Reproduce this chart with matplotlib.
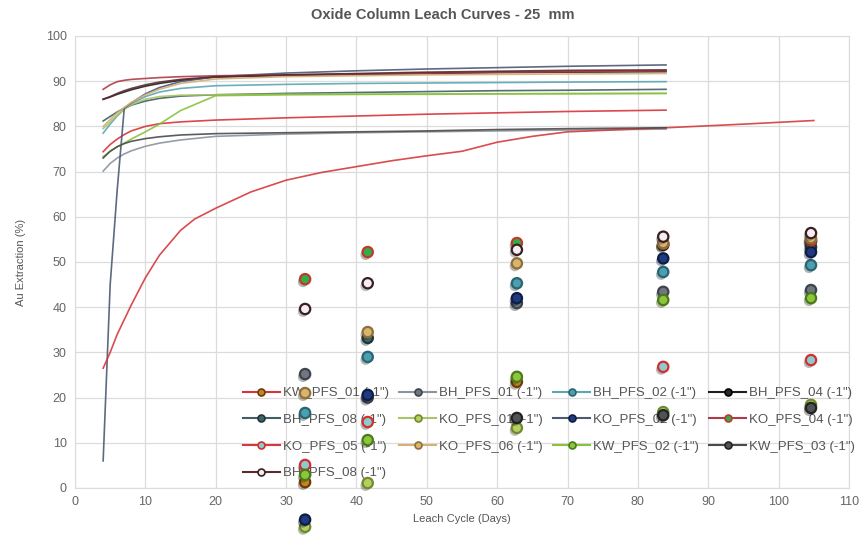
import numpy as np
import matplotlib.pyplot as plt
import matplotlib.patheffects as pe
from matplotlib.lines import Line2D

plt.rcParams['font.family'] = ['Liberation Sans', 'DejaVu Sans']

# leach curve days shared by the column tests
days = [4, 5, 6, 7, 8, 10, 12, 15, 20, 30, 40, 50, 60, 70, 84]
# longer test runs to 105 days
days_long = [4, 5, 6, 8, 10, 12, 15, 17, 20, 25, 30, 35, 40, 45, 50, 55, 60, 65, 70, 84, 95, 105]

# sampling days for the point assays
assay_days = [32.7, 41.6, 62.8, 83.6, 104.6]

names = ['KW_PFS_01 (-1")', 'BH_PFS_01 (-1")', 'BH_PFS_02 (-1")', 'BH_PFS_04 (-1")',
         'BH_PFS_08 (-1")', 'KO_PFS_01 (-1")', 'KO_PFS_02 (-1")', 'KO_PFS_04 (-1")',
         'KO_PFS_05 (-1")', 'KO_PFS_06 (-1")', 'KW_PFS_02 (-1")', 'KW_PFS_03 (-1")',
         'BH_PFS_08 (-1")']

kw01 = [74.4, 76.0, 77.2, 78.2, 79.0, 80.0, 80.6, 81.0, 81.4, 81.9, 82.3, 82.7, 83.0, 83.3, 83.6]
bh01 = [70.1, 71.8, 73.0, 73.9, 74.6, 75.6, 76.3, 77.0, 77.8, 78.3, 78.6, 78.8, 79.0, 79.2, 79.4]
bh02 = [78.5, 80.5, 82.3, 83.8, 85.0, 86.6, 87.6, 88.4, 89.0, 89.3, 89.5, 89.6, 89.7, 89.8, 89.9]
bh04 = [86.0, 86.5, 87.1, 87.6, 88.1, 88.9, 89.5, 90.2, 90.9, 91.3, 91.5, 91.7, 91.9, 92.0, 92.1]
bh08 = [81.2, 82.2, 83.2, 84.0, 84.7, 85.6, 86.2, 86.7, 87.0, 87.3, 87.5, 87.7, 87.9, 88.0, 88.2]
ko01 = [79.5, 81.0, 82.5, 83.8, 84.8, 86.0, 86.6, 86.9, 87.0, 87.1, 87.1, 87.2, 87.2, 87.3, 87.3]
ko02 = [6.0, 45.0, 66.0, 84.0, 85.2, 87.2, 88.6, 89.9, 91.0, 91.8, 92.3, 92.7, 93.0, 93.3, 93.6]
ko04 = [88.2, 89.2, 89.9, 90.2, 90.4, 90.6, 90.8, 91.0, 91.2, 91.4, 91.6, 91.8, 92.0, 92.1, 92.3]
ko05 = [26.5, 30.0, 34.0, 40.5, 46.5, 51.5, 57.0, 59.5, 61.9, 65.5, 68.1, 69.8, 71.1, 72.4,
        73.5, 74.5, 76.5, 77.8, 78.8, 79.7, 80.5, 81.3]
ko06 = [80.0, 81.5, 83.0, 84.2, 85.3, 87.0, 88.2, 89.5, 90.5, 91.0, 91.2, 91.4, 91.5, 91.6, 91.7]
kw02 = [73.3, 74.5, 75.5, 76.3, 77.2, 78.8, 80.5, 83.5, 86.8, 87.0, 87.1, 87.1, 87.2, 87.2, 87.3]
kw03 = [73.0, 74.5, 75.5, 76.2, 76.7, 77.3, 77.7, 78.1, 78.4, 78.6, 78.8, 79.0, 79.3, 79.5, 79.7]
bh08b = [86.0, 86.6, 87.3, 87.9, 88.4, 89.2, 89.8, 90.4, 91.0, 91.4, 91.7, 92.0, 92.2, 92.4, 92.5]

curves = [kw01, bh01, bh02, bh04, bh08, ko01, ko02, ko04, ko05, ko06, kw02, kw03, bh08b]

# point assays (%), one per sampling day
pts_kw01 = [1.3, np.nan, 23.5, np.nan, np.nan]
pts_bh01 = [25.2, 20.0, 40.9, 43.4, 43.8]
pts_bh02 = [16.6, 29.0, 45.3, 47.8, 49.3]
pts_bh04 = [np.nan, np.nan, np.nan, 53.8, 54.6]
pts_bh08 = [np.nan, 33.2, np.nan, np.nan, 53.3]
pts_ko01 = [-8.6, 1.1, 13.3, 16.8, 18.4]
pts_ko02 = [-7.0, 20.6, 42.0, 50.8, 52.2]
pts_ko04 = [46.2, 52.2, 54.2, 54.0, 54.8]
pts_ko05 = [5.1, 14.6, np.nan, 26.8, 28.3]
pts_ko06 = [21.0, 34.5, 49.7, 54.2, 55.3]
pts_kw02 = [2.9, 10.6, 24.6, 41.6, 42.0]
pts_kw03 = [np.nan, np.nan, 15.5, 16.1, 17.7]
pts_bh08b = [39.6, 45.3, 52.7, 55.6, 56.4]

points = [pts_kw01, pts_bh01, pts_bh02, pts_bh04, pts_bh08, pts_ko01, pts_ko02, pts_ko04,
          pts_ko05, pts_ko06, pts_kw02, pts_kw03, pts_bh08b]

line_colors = ['#d9333a', '#8a949c', '#5aa6b3', '#1e1e1e', '#3f5f63', '#a9c46a', '#4d5a72',
               '#b03a48', '#d6383c', '#d4b07a', '#86c23a', '#4a4a4a', '#5c2a2e']
face_colors = ['#c8861e', '#6f7880', '#4a9fb0', '#2a2a2a', '#3d6468', '#b5d060', '#1f3a80',
               '#2fae4a', '#8ccbd0', '#d8b46c', '#8cc63c', '#4e5358', '#f4eef0']
edge_colors = ['#6b3a10', '#3e444a', '#2c6470', '#000000', '#213538', '#6f8a30', '#0f1d45',
               '#c0392b', '#d42f2f', '#8c6f3a', '#4c7a1a', '#222222', '#3a1f22']

fig = plt.figure(figsize=(8.64, 5.35), dpi=100)
ax = fig.add_axes([75 / 864, 1 - 488 / 535, 774 / 864, 452 / 535])

for i, y in enumerate(curves):
    x = days_long if len(y) == len(days_long) else days
    ax.plot(x, y, color=line_colors[i], lw=1.2, alpha=0.9, zorder=2)

shadow = [pe.SimplePatchShadow(offset=(-1.5, -2), alpha=0.35), pe.Normal()]
for i, p in enumerate(points):
    sc = ax.scatter(assay_days, p, s=55, color=face_colors[i], edgecolors=edge_colors[i],
                    linewidths=1.6, zorder=5, clip_on=False)
    sc.set_path_effects(shadow)

ax.set_xlim(0, 110)
ax.set_ylim(0, 100)
ax.set_xticks(np.arange(0, 111, 10))
ax.set_yticks(np.arange(0, 101, 10))
ax.grid(True, color='#dcdcdc', lw=0.9)
ax.set_axisbelow(True)
ax.tick_params(length=0, labelsize=9, labelcolor='#666666', pad=6)
for s in ax.spines.values():
    s.set_color('#dcdcdc')

ax.set_xlabel('Leach Cycle (Days)', fontsize=8, color='#555555', labelpad=4)
ax.set_ylabel('Au Extraction (%)', fontsize=8, color='#555555', labelpad=14)
fig.text(443 / 864, 1 - 15 / 535, 'Oxide Column Leach Curves - 25  mm', ha='center',
         va='center', fontsize=10.5, fontweight='bold', color='#555555')

handles = []
for i in range(len(names)):
    handles.append(Line2D([], [], color=line_colors[i], lw=1.5, marker='o', markersize=5,
                          markerfacecolor=face_colors[i], markeredgecolor=edge_colors[i],
                          markeredgewidth=1.2))

# reorder so the 4-column legend reads row by row
order = [0, 4, 8, 12, 1, 5, 9, 2, 6, 10, 3, 7, 11]
leg = ax.legend([handles[k] for k in order], [names[k] for k in order], ncol=4,
                loc='upper left', bbox_to_anchor=(243 / 864, 1 - 387 / 535),
                bbox_transform=fig.transFigure, frameon=False, fontsize=9.5,
                handlelength=2.8, handletextpad=0.25, columnspacing=0.75,
                labelspacing=1.1, borderpad=0, borderaxespad=0)
for t in leg.get_texts():
    t.set_color('#555555')
leg.set_zorder(3)

fig.savefig('out.png', dpi=100)
